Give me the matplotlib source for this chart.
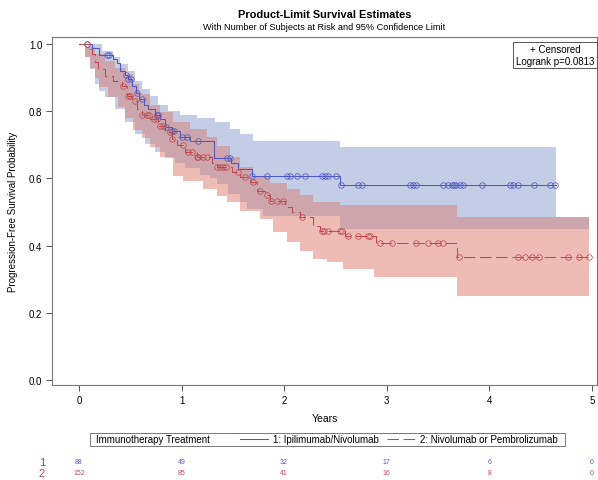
import numpy as np
import matplotlib
matplotlib.use("Agg")
import matplotlib.pyplot as plt
from matplotlib.lines import Line2D
from matplotlib.patches import Rectangle
from matplotlib.transforms import blended_transform_factory

plt.rcParams["font.family"] = ["Liberation Sans", "DejaVu Sans"]

BLUE = "#5058c4"
RED = "#c04a50"
BLUE_FILL = "#c3cde6"
RED_FILL = "#efbcb5"
BOTH_FILL = "#cda6ad"

# group 1: Ipilimumab/Nivolumab (step curve, years / survival)
b_t = [0, 0.13, 0.20, 0.33, 0.37, 0.40, 0.45, 0.48, 0.52, 0.56, 0.59, 0.63, 0.67,
       0.74, 0.79, 0.84, 0.91, 0.98, 1.08, 1.32, 1.48, 1.55, 1.69, 2.54, 4.65]
b_s = [1.0, 0.988, 0.966, 0.955, 0.943, 0.92, 0.908, 0.896, 0.875, 0.855, 0.836, 0.82, 0.807,
       0.79, 0.777, 0.753, 0.741, 0.723, 0.711, 0.661, 0.646, 0.628, 0.607, 0.58, 0.58]
b_cens = [0.08, 0.27, 0.29, 0.46, 0.48, 0.51, 0.57, 0.61, 0.76, 0.77, 0.85, 0.91, 0.93,
          1.00, 1.05, 1.16, 1.44, 1.47, 1.69, 1.83, 2.03, 2.06, 2.13, 2.20, 2.37, 2.40,
          2.43, 2.51, 2.55, 2.72, 2.76, 3.23, 3.26, 3.29, 3.55, 3.60, 3.64, 3.66, 3.68,
          3.71, 3.74, 3.93, 4.20, 4.23, 4.28, 4.44, 4.59, 4.64]
# 95% confidence limits, group 1
bu_t = [0.11, 0.22, 0.33, 0.40, 0.48, 0.55, 0.61, 0.69, 0.77, 0.87, 0.98, 1.15, 1.33,
        1.47, 1.57, 1.70, 2.54, 4.65]
bu_v = [1.0, 0.98, 0.96, 0.94, 0.92, 0.89, 0.866, 0.845, 0.82, 0.80, 0.79, 0.78, 0.768,
        0.747, 0.732, 0.711, 0.693, 0.693]
bl_t = [0.11, 0.16, 0.20, 0.25, 0.35, 0.45, 0.55, 0.64, 0.74, 0.84, 0.94, 1.03, 1.18,
        1.28, 1.35, 1.45, 1.57, 1.64, 1.79, 2.54, 4.65]
bl_v = [0.925, 0.88, 0.86, 0.842, 0.807, 0.768, 0.732, 0.702, 0.68, 0.66, 0.645, 0.63, 0.61,
        0.60, 0.583, 0.554, 0.53, 0.509, 0.488, 0.449, 0.449]

# group 2: Nivolumab or Pembrolizumab
r_t = [0, 0.11, 0.13, 0.16, 0.19, 0.25, 0.33, 0.42, 0.47, 0.52, 0.57, 0.61, 0.69, 0.77,
       0.84, 0.91, 0.96, 1.03, 1.15, 1.30, 1.35, 1.49, 1.57, 1.67, 1.74, 1.81, 1.86, 2.01,
       2.08, 2.15, 2.28, 2.35, 2.59, 2.90, 3.69, 4.97]
r_s = [1.0, 0.985, 0.97, 0.946, 0.926, 0.905, 0.89, 0.875, 0.845, 0.83, 0.807, 0.79, 0.777,
       0.756, 0.738, 0.717, 0.70, 0.68, 0.664, 0.645, 0.634, 0.62, 0.604, 0.589, 0.563,
       0.55, 0.533, 0.515, 0.50, 0.485, 0.458, 0.443, 0.429, 0.408, 0.366, 0.366]
r_cens = [0.08, 0.43, 0.48, 0.50, 0.55, 0.61, 0.66, 0.68, 0.73, 0.76, 0.79, 0.82, 0.89,
          0.91, 1.01, 1.06, 1.10, 1.15, 1.16, 1.21, 1.25, 1.35, 1.37, 1.40, 1.43, 1.55,
          1.62, 1.70, 1.76, 1.83, 1.87, 1.93, 1.99, 2.17, 2.37, 2.39, 2.43, 2.54, 2.56,
          2.62, 2.72, 2.82, 2.84, 2.93, 3.05, 3.29, 3.40, 3.50, 3.55, 3.70, 4.28, 4.35,
          4.42, 4.48, 4.77, 4.87, 4.97]
ru_t = [0.06, 0.16, 0.25, 0.35, 0.45, 0.53, 0.59, 0.69, 0.79, 0.92, 1.08, 1.25, 1.35,
        1.47, 1.57, 1.70, 1.86, 2.03, 2.15, 2.28, 2.54, 3.69, 4.97]
ru_v = [0.99, 0.97, 0.95, 0.93, 0.91, 0.88, 0.85, 0.82, 0.797, 0.768, 0.747, 0.723, 0.696,
        0.664, 0.634, 0.607, 0.585, 0.568, 0.55, 0.53, 0.52, 0.485, 0.485]
rl_t = [0.06, 0.11, 0.16, 0.20, 0.28, 0.38, 0.45, 0.53, 0.61, 0.69, 0.79, 0.92, 1.01,
        1.21, 1.35, 1.44, 1.57, 1.76, 1.89, 2.03, 2.15, 2.28, 2.42, 2.57, 2.88, 3.69, 4.97]
rl_v = [0.96, 0.93, 0.90, 0.872, 0.842, 0.812, 0.78, 0.745, 0.72, 0.693, 0.665, 0.607,
        0.592, 0.568, 0.548, 0.53, 0.503, 0.479, 0.44, 0.41, 0.384, 0.36, 0.35, 0.33,
        0.306, 0.25, 0.25]

# number at risk
risk_years = [0, 1, 2, 3, 4, 5]
risk_1 = [88, 49, 32, 17, 6, 0]
risk_2 = [152, 85, 41, 16, 8, 0]

group_labels = ["1: Ipilimumab/Nivolumab", "2: Nivolumab or Pembrolizumab"]


def step_at(times, vals, x, outside=None):
    x = np.asarray(x, dtype=float)
    idx = np.searchsorted(times, x, side="right") - 1
    out = np.asarray(vals, dtype=float)[np.clip(idx, 0, len(vals) - 1)]
    if outside is not None:
        out = np.where((x < times[0]) | (x > times[-1]), outside, out)
    return out


# bands drawn opaque: blue only, red only, and their overlap
grid = np.union1d(np.union1d(bu_t, bl_t), np.union1d(ru_t, rl_t))
b_hi = step_at(bu_t, bu_v, grid, np.nan)
b_lo = step_at(bl_t, bl_v, grid, np.nan)
r_hi = step_at(ru_t, ru_v, grid, np.nan)
r_lo = step_at(rl_t, rl_v, grid, np.nan)
o_hi = np.fmin(b_hi, r_hi)
o_lo = np.fmax(b_lo, r_lo)
o_lo = np.where(o_lo > o_hi, o_hi, o_lo)

fig = plt.figure(figsize=(5.98, 4.81), dpi=100)
ax = fig.add_axes([52 / 598, 1 - 386 / 481, 545 / 598, 348 / 481])

ax.fill_between(grid, b_lo, b_hi, step="post", color=BLUE_FILL, lw=0)
ax.fill_between(grid, r_lo, r_hi, step="post", color=RED_FILL, lw=0)
ax.fill_between(grid, o_lo, o_hi, step="post", color=BOTH_FILL, lw=0)

ax.step(b_t, b_s, where="post", color=BLUE, lw=0.75)
ax.step(r_t, r_s, where="post", color=RED, lw=0.75, linestyle=(0, (11, 4.5)))
ax.plot(b_cens, step_at(b_t, b_s, b_cens), "o", ms=4.0, mfc="none", mec=BLUE, mew=0.55)
ax.plot(r_cens, step_at(r_t, r_s, r_cens), "o", ms=4.0, mfc="none", mec=RED, mew=0.55)

ax.set_xlim(-0.263, 5.05)
ax.set_ylim(-0.015, 1.021)
ax.set_xticks(risk_years)
ax.set_yticks([0.0, 0.2, 0.4, 0.6, 0.8, 1.0])
ax.set_yticklabels(["0.0", "0.2", "0.4", "0.6", "0.8", "1.0"])
ax.tick_params(labelsize=7, length=4, width=0.7, color="#555555", pad=3)
for sp in ax.spines.values():
    sp.set_color("#777777")
    sp.set_linewidth(0.8)
ax.set_xlabel("Years", fontsize=7.5, labelpad=6)
ax.set_ylabel("Progression-Free Survival Probability", fontsize=7, labelpad=8)

fig.text(0.5425, 1 - 15 / 481, "Product-Limit Survival Estimates",
         ha="center", va="center", fontsize=7.9, fontweight="bold")
fig.text(0.5425, 1 - 28 / 481, "With Number of Subjects at Risk and 95% Confidence Limit",
         ha="center", va="center", fontsize=6.6)

# censored / logrank box
ax.text(0.923, 0.948, "+ Censored\nLogrank p=0.0813", transform=ax.transAxes,
        ha="center", va="center", fontsize=7, linespacing=1.15,
        bbox=dict(boxstyle="square,pad=0.25", fc="white", ec="#555555", lw=0.7))

# legend below axes
fig.patches.append(Rectangle((90 / 598, 1 - 447 / 481), 475 / 598, 13 / 481,
                             transform=fig.transFigure, fill=False,
                             ec="#777777", lw=0.7))
fig.text(96 / 598, 1 - 440.5 / 481, "Immunotherapy Treatment", fontsize=7,
         ha="left", va="center")
handles = [Line2D([], [], color=BLUE, lw=0.75),
           Line2D([], [], color=RED, lw=0.75, linestyle=(0, (11, 4.5)))]
fig.legend(handles, group_labels, loc="center left",
           bbox_to_anchor=(240 / 598, 1 - 440.5 / 481), ncol=2, frameon=False,
           fontsize=7, handlelength=2.9, handletextpad=0.5, columnspacing=0.8,
           borderpad=0, borderaxespad=0)

# number at risk table
tr = blended_transform_factory(ax.transData, fig.transFigure)
y1, y2 = 1 - 463 / 481, 1 - 474 / 481
fig.text(42 / 598, y1, "1", color=BLUE, fontsize=8, ha="center", va="center")
fig.text(42 / 598, y2, "2", color=RED, fontsize=8, ha="center", va="center")
for yr, n1, n2 in zip(risk_years, risk_1, risk_2):
    ax.text(yr, y1, str(n1), transform=tr, color=BLUE, fontsize=5, ha="center", va="center")
    ax.text(yr, y2, str(n2), transform=tr, color=RED, fontsize=5, ha="center", va="center")

fig.savefig("out.png", dpi=100)
